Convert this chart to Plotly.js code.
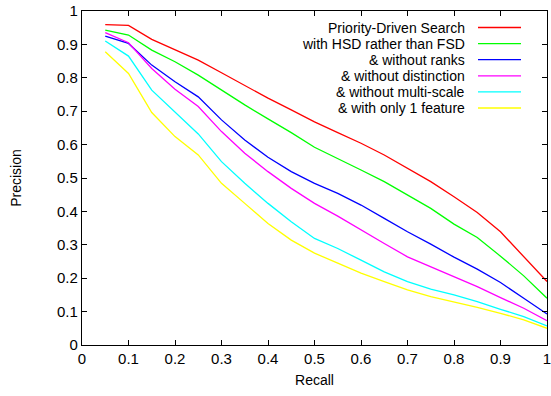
<!DOCTYPE html>
<html>
<head>
<meta charset="utf-8">
<script src="https://cdn.plot.ly/plotly-3.0.1.min.js"></script>
<style>html,body{margin:0;padding:0;background:#fff;}#chart{width:551px;height:396px;}</style>
</head>
<body>
<div id="chart"></div>
<script>
const recall = [0.05,0.1,0.15,0.2,0.25,0.3,0.35,0.4,0.45,0.5,0.55,0.6,0.65,0.7,0.75,0.8,0.85,0.9,0.95,1.0];
const seriesNames = ["Priority-Driven Search","with HSD rather than FSD","& without ranks","& without distinction","& without multi-scale","& with only 1 feature"];
const seriesColors = ["#ff0000","#00ff00","#0000ff","#ff00ff","#00ffff","#ffff00"];
const precisionPDS = [0.959,0.957,0.915,0.885,0.853,0.815,0.777,0.739,0.704,0.668,0.636,0.604,0.569,0.529,0.489,0.444,0.397,0.339,0.266,0.19];
const precisionHSD = [0.943,0.928,0.883,0.848,0.808,0.763,0.719,0.677,0.636,0.592,0.559,0.524,0.489,0.449,0.409,0.362,0.322,0.266,0.207,0.14];
const precisionNoRanks = [0.925,0.903,0.838,0.788,0.743,0.674,0.614,0.562,0.519,0.484,0.454,0.419,0.379,0.339,0.302,0.263,0.227,0.187,0.14,0.093];
const precisionNoDistinction = [0.935,0.905,0.828,0.766,0.714,0.639,0.574,0.519,0.469,0.424,0.386,0.344,0.304,0.264,0.234,0.203,0.175,0.142,0.11,0.073];
const precisionNoMultiScale = [0.910,0.865,0.763,0.697,0.632,0.549,0.484,0.424,0.369,0.319,0.289,0.254,0.219,0.19,0.167,0.15,0.13,0.107,0.085,0.057];
const precisionOneFeature = [0.878,0.813,0.696,0.624,0.569,0.484,0.424,0.364,0.314,0.275,0.245,0.215,0.19,0.165,0.145,0.13,0.113,0.095,0.075,0.05];
const allPrecision = [precisionPDS,precisionHSD,precisionNoRanks,precisionNoDistinction,precisionNoMultiScale,precisionOneFeature];

const traces = allPrecision.map((p,i)=>({
  x: recall, y: p, type:'scatter', mode:'lines', name: seriesNames[i],
  line:{color:seriesColors[i], width:1.3}, showlegend:false
}));

const fontFam = '"Liberation Sans", Arial, Helvetica, sans-serif';
const FS = 15, LFS = 14;
const L = 82, R = 547, T = 11, B = 345;
const W = R-L, H = B-T;
const legTextRight = (466.5-L)/W, legLineX0 = (478-L)/W, legLineX1 = (521-L)/W;
const legY0 = 27.5, legStep = 16.1;
const annotations = [], shapes = [];
seriesNames.forEach((n,i)=>{
  const yp = (B-(legY0+i*legStep))/H;
  annotations.push({xref:'paper',yref:'paper',x:legTextRight,y:yp,xanchor:'right',yanchor:'middle',text:n,showarrow:false,font:{family:fontFam,size:LFS,color:'#000'}});
  shapes.push({type:'line',xref:'paper',yref:'paper',x0:legLineX0,x1:legLineX1,y0:yp,y1:yp,line:{color:seriesColors[i],width:1.3}});
});

const axisCommon = {
  showgrid:false, zeroline:false, showline:true, linecolor:'#000', linewidth:1.2,
  mirror:'ticks', ticks:'inside', ticklen:5, tickcolor:'#000', tickwidth:1,
  dtick:0.1, tick0:0, tickfont:{family:fontFam,size:FS,color:'#000'},
  ticklabeloverflow:'allow'
};
const layout = {
  width:551, height:396,
  margin:{l:L, r:551-R, t:T, b:396-B},
  paper_bgcolor:'#fff', plot_bgcolor:'#fff',
  font:{family:fontFam,size:FS,color:'#000'},
  xaxis: Object.assign({}, axisCommon, {range:[0,1], title:{text:'Recall', font:{family:fontFam,size:LFS}, standoff:9}}),
  yaxis: Object.assign({}, axisCommon, {range:[0,1], title:{text:'Precision', font:{family:fontFam,size:LFS}, standoff:32}}),
  annotations: annotations, shapes: shapes
};
Plotly.newPlot('chart', traces, layout, {displayModeBar:false, staticPlot:true});
</script>
</body>
</html>
